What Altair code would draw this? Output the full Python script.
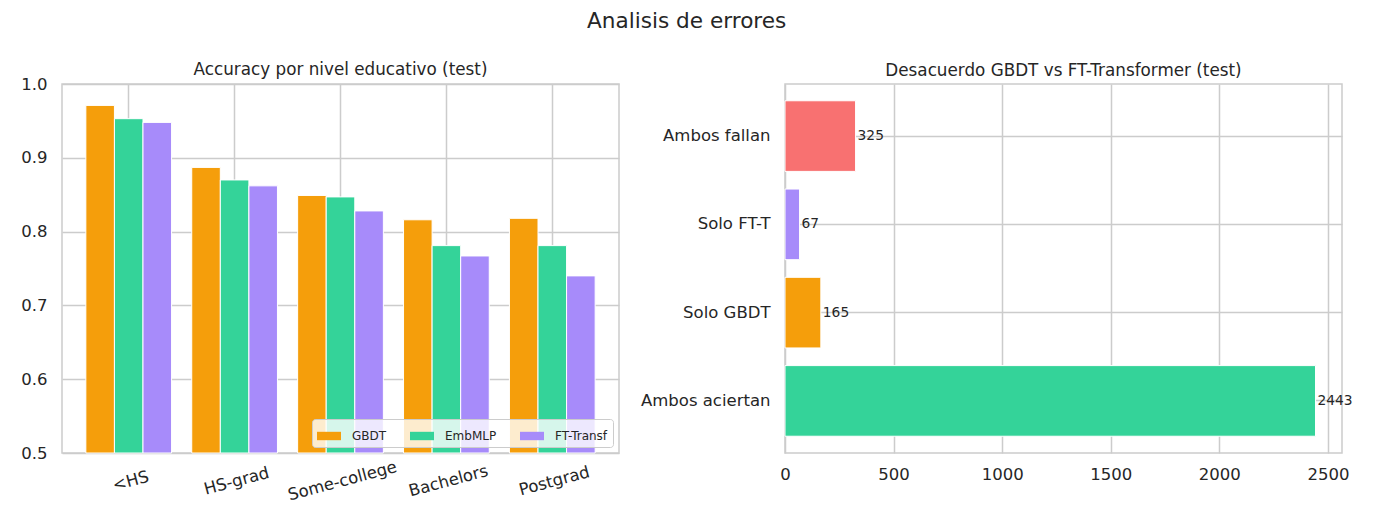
import altair as alt
import pandas as pd

# ---- data ----
levels = ["<HS", "HS-grad", "Some-college", "Bachelors", "Postgrad"]
models = ["GBDT", "EmbMLP", "FT-Transf"]
acc_gbdt = [0.971, 0.887, 0.849, 0.816, 0.818]
acc_embmlp = [0.953, 0.870, 0.847, 0.781, 0.781]
acc_ft = [0.948, 0.862, 0.828, 0.767, 0.740]
model_colors = ["#f59e0b", "#34d399", "#a78bfa"]

groups = ["Ambos fallan", "Solo FT-T", "Solo GBDT", "Ambos aciertan"]
counts = [325, 67, 165, 2443]
group_colors = ["#f87171", "#a78bfa", "#f59e0b", "#34d399"]

FONT = "DejaVu Sans"
TEXT = "#262626"
GRID = "#cccccc"

acc_df = pd.DataFrame({"level": levels, "GBDT": acc_gbdt, "EmbMLP": acc_embmlp, "FT-Transf": acc_ft})
acc_df = acc_df.melt("level", var_name="model", value_name="accuracy")

dis_df = pd.DataFrame({"group": groups, "count": counts})

# ---- left: accuracy by education level ----
left = (
    alt.Chart(acc_df)
    .mark_bar(stroke="white", strokeWidth=1)
    .encode(
        x=alt.X(
            "level:N", sort=levels, title=None,
            scale=alt.Scale(paddingInner=0, paddingOuter=0.13),
            axis=alt.Axis(labelAngle=345, labelAlign="center", labelBaseline="top",
                          labelPadding=20, grid=True, bandPosition=0.5, labelOverlap=False),
        ),
        xOffset=alt.XOffset("model:N", sort=models,
                            scale=alt.Scale(paddingInner=0, paddingOuter=0.353)),
        y=alt.Y(
            "accuracy:Q", title=None,
            scale=alt.Scale(domain=[0.5, 1.0], nice=False, zero=False),
            axis=alt.Axis(values=[0.5, 0.6, 0.7, 0.8, 0.9, 1.0], format=".1f"),
        ),
        y2=alt.datum(0.5),
        color=alt.Color(
            "model:N", sort=models,
            scale=alt.Scale(domain=models, range=model_colors),
            legend=alt.Legend(
                title=None, orient="bottom-right", direction="horizontal", offset=6,
                symbolType="M-1,-0.35L1,-0.35L1,0.35L-1,0.35Z", symbolSize=576,
                symbolStrokeWidth=0, labelFontSize=12, labelFont=FONT, labelColor=TEXT,
                labelOffset=11, columnPadding=23, padding=5,
                fillColor="rgba(255,255,255,0.8)", strokeColor=GRID, cornerRadius=3,
            ),
        ),
    )
    .properties(
        width=557, height=369,
        # the "1.0" label sticks out above the frame, so the offset is smaller here
        title=alt.Title("Accuracy por nivel educativo (test)", fontSize=16.8, offset=-3, frame="group"),
    )
)

# ---- right: disagreement counts ----
base_right = alt.Chart(dis_df).encode(
    y=alt.Y(
        "group:N", sort=groups, title=None,
        scale=alt.Scale(paddingInner=0.2, paddingOuter=0.19),
        axis=alt.Axis(grid=True, bandPosition=0.5),
    ),
    x=alt.X(
        "count:Q", title=None,
        scale=alt.Scale(domain=[0, 2565], nice=False),
        axis=alt.Axis(values=[0, 500, 1000, 1500, 2000, 2500], format="d", labelPadding=13),
    ),
)
bars_right = base_right.mark_bar(stroke="white", strokeWidth=1).encode(
    color=alt.Color("group:N", scale=alt.Scale(domain=groups, range=group_colors), legend=None)
)
labels_right = base_right.mark_text(
    align="left", baseline="middle", dx=2, fontSize=13.8, font=FONT, color=TEXT
).encode(text="count:Q")

right = alt.layer(bars_right, labels_right).properties(
    width=557, height=369,
    title=alt.Title("Desacuerdo GBDT vs FT-Transformer (test)", fontSize=16.8, offset=4, frame="group"),
)

chart = (
    alt.hconcat(left, right, spacing=19)
    .resolve_scale(color="independent")
    .resolve_legend(color="independent")
    .properties(
        title=alt.Title("Analisis de errores", fontSize=21.6, anchor="middle", offset=29),
        padding={"left": 12, "top": 2, "right": 5, "bottom": 5},
    )
    .configure_view(stroke=GRID, strokeWidth=1.5)
    .configure_axis(
        domain=False, ticks=False, grid=True, gridColor=GRID, gridWidth=1.5,
        labelFont=FONT, labelFontSize=16.5, labelColor=TEXT, labelPadding=15,
        labelFlush=False,
    )
    .configure_title(font=FONT, color=TEXT, fontWeight="normal")
)

chart.save("out.html", embed_options={"renderer": "svg", "actions": False})
